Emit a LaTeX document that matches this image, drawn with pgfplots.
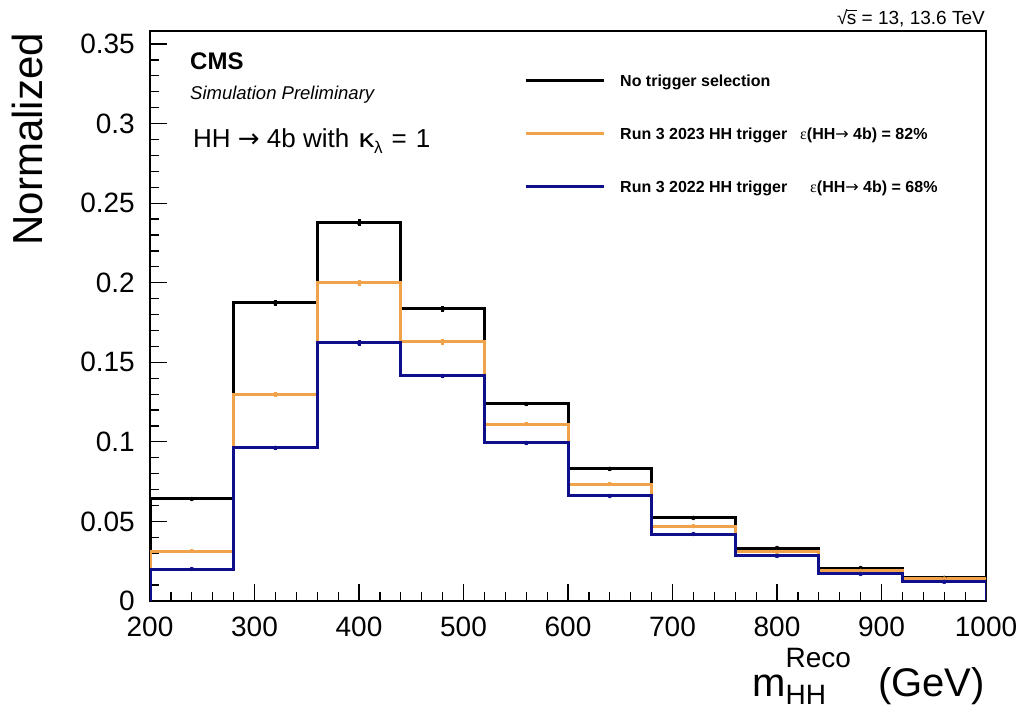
\documentclass[border=0pt]{standalone}
\usepackage{pgfplots}
\pgfplotsset{compat=1.18}
\usepackage{pgfplotstable}
\usepackage{fontspec}
\setmainfont{Liberation Sans}
\newfontfamily\symbolfont{Liberation Serif}
\newfontfamily\arrowfont{DejaVu Sans}
\newcommand{\rarr}{{\arrowfont\mdseries →}}

\definecolor{histblack}{RGB}{0,0,0}
\definecolor{historange}{RGB}{240,163,75}
\definecolor{histblue}{RGB}{15,15,140}

% bin centres (80 GeV bins), normalised contents and statistical errors
\pgfplotstableread{
x    notrig  enotrig  run23   erun23  run22   erun22
240  0.0641  0.0008   0.0314  0.0006  0.0201  0.0005
320  0.1873  0.0017   0.1300  0.0015  0.0962  0.0012
400  0.2376  0.0022   0.1999  0.0019  0.1622  0.0017
480  0.1835  0.0018   0.1628  0.0017  0.1414  0.0015
560  0.1238  0.0014   0.1112  0.0013  0.0993  0.0012
640  0.0830  0.0011   0.0735  0.0010  0.0660  0.0009
720  0.0522  0.0008   0.0471  0.0007  0.0421  0.0007
800  0.0333  0.0006   0.0308  0.0006  0.0283  0.0006
880  0.0207  0.0005   0.0189  0.0005  0.0170  0.0004
960  0.0145  0.0004   0.0140  0.0004  0.0120  0.0004
}\bins

\begin{document}
\begin{tikzpicture}
\useasboundingbox (0,0) rectangle (1025pt,711pt);
\begin{axis}[
  at={(150pt,110pt)}, anchor=south west,
  scale only axis, width=836pt, height=570pt,
  xmin=200, xmax=1000, ymin=0, ymax=0.3582,
  xtick={200,300,400,500,600,700,800,900,1000},
  xticklabels={200,300,400,500,600,700,800,900,1000},
  ytick={0,0.05,0.1,0.15,0.2,0.25,0.3,0.35},
  yticklabels={0,0.05,0.1,0.15,0.2,0.25,0.3,0.35},
  /pgf/number format/assume math mode=true,
  minor x tick num=4, minor y tick num=4,
  tick align=inside, xtick pos=left, ytick pos=left,
  major tick length=17pt, minor tick length=9pt,
  every tick/.style={black, line width=1.2pt},
  axis line style={line width=2pt},
  tick label style={font=\fontsize{28}{28}\selectfont, inner sep=0pt},
  xticklabel shift=16pt, yticklabel shift=15pt,
  xlabel={m\rlap{\raisebox{29pt}{\fontsize{28}{28}\selectfont Reco}}\raisebox{-8pt}{\fontsize{28}{28}\selectfont HH}\hspace{52pt}(GeV)},
  xlabel style={at={(axis description cs:0.9988,-0.1684)}, anchor=base east, inner sep=0pt, font=\fontsize{40}{40}\selectfont},
  ylabel={Normalized},
  ylabel style={at={(axis description cs:-0.128,0.9965)}, anchor=base east, inner sep=0pt, font=\fontsize{42}{42}\selectfont},
  legend style={at={(axis description cs:0.4474,0.9281)}, anchor=north west,
    draw=none, fill=none, inner sep=0pt, row sep=35.5pt, column sep=0pt,
    font=\fontsize{16}{16}\selectfont\bfseries,
    cells={anchor=west, inner sep=0pt, text height=12pt, text depth=0pt}},
  legend cell align=left,
  legend image code/.code={\draw[#1, line width=3pt] (0pt,0pt) -- (78pt,0pt); \path (91pt,0pt);},
]
% histogram outlines: bin edges 200, 280, ..., 1000
\addplot[const plot mark left, histblack, line width=3pt] coordinates {
  (200,0) (200,0.0641) (280,0.1873) (360,0.2376) (440,0.1835) (520,0.1238)
  (600,0.0830) (680,0.0522) (760,0.0333) (840,0.0207) (920,0.0145) (1000,0.0145) (1000,0)};
\addlegendentry{No trigger selection}
\addplot[forget plot, histblack, only marks, mark=none,
  error bars/.cd, y dir=both, y explicit, error mark=none,
  error bar style={line width=3pt}]
  table[x=x, y=notrig, y error=enotrig] {\bins};

\addplot[const plot mark left, historange, line width=3pt] coordinates {
  (200,0) (200,0.0314) (280,0.1300) (360,0.1999) (440,0.1628) (520,0.1112)
  (600,0.0735) (680,0.0471) (760,0.0308) (840,0.0189) (920,0.0140) (1000,0.0140) (1000,0)};
\addlegendentry{\makebox[180pt][l]{Run 3 2023 HH trigger}{\symbolfont\mdseries ε}(HH\rarr\ 4b) = 82\%}
\addplot[forget plot, historange, only marks, mark=none,
  error bars/.cd, y dir=both, y explicit, error mark=none,
  error bar style={line width=3pt}]
  table[x=x, y=run23, y error=erun23] {\bins};

\addplot[const plot mark left, histblue, line width=3pt] coordinates {
  (200,0) (200,0.0201) (280,0.0962) (360,0.1622) (440,0.1414) (520,0.0993)
  (600,0.0660) (680,0.0421) (760,0.0283) (840,0.0170) (920,0.0120) (1000,0.0120) (1000,0)};
\addlegendentry{\makebox[190pt][l]{Run 3 2022 HH trigger}{\symbolfont\mdseries ε}(HH\rarr\ 4b) = 68\%}
\addplot[forget plot, histblue, only marks, mark=none,
  error bars/.cd, y dir=both, y explicit, error mark=none,
  error bar style={line width=3pt}]
  table[x=x, y=run22, y error=erun22] {\bins};
\end{axis}

% experiment label and process description
\node[anchor=base west, inner sep=0pt, font=\fontsize{24}{24}\selectfont\bfseries] at (190pt,641pt) {CMS};
\node[anchor=base west, inner sep=0pt, font=\fontsize{18.5}{18.5}\selectfont\itshape] at (190pt,611pt) {Simulation Preliminary};
\node[anchor=base west, inner sep=0pt, font=\fontsize{26}{26}\selectfont] at (193pt,563pt)
  {HH \rarr\ 4b with\hspace{2pt} \scalebox{1.2}[1]{κ}\raisebox{-6pt}{\fontsize{17}{17}\selectfont λ}\hspace{9pt}=\hspace{9pt}1};
\node[anchor=base east, inner sep=0pt, font=\fontsize{19}{19}\selectfont] at (985pt,686pt)
  {√\kern-0.5pt\rlap{\rule[14.5pt]{10pt}{0.9pt}}s = 13, 13.6 TeV};
\end{tikzpicture}
\end{document}
